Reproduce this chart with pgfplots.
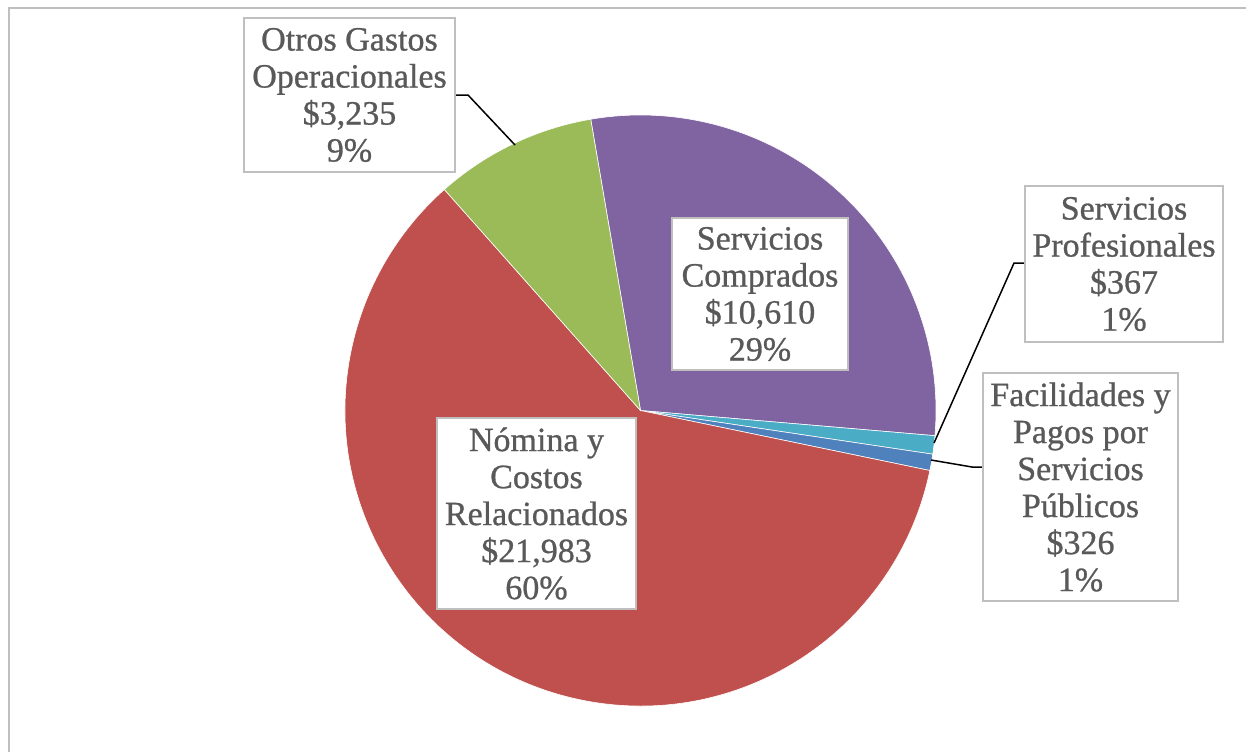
\documentclass[border=0pt]{standalone}
\usepackage{pgfplots}
\pgfplotsset{compat=1.18}
\usepackage{pgfplotstable}
\usepackage{fontspec}
\setmainfont{Liberation Serif}
\newfontfamily\lblfont{Liberation Serif}[FakeBold=0.8]
\definecolor{cpurple}{HTML}{8064A2}
\definecolor{cgreen}{HTML}{9BBB59}
\definecolor{cred}{HTML}{C0504D}
\definecolor{clblue}{HTML}{4BACC6}
\definecolor{cblue}{HTML}{4F81BD}
\definecolor{ctext}{HTML}{595959}
\definecolor{cframe}{HTML}{BFBFBF}

% order: clockwise from the green/purple border
\pgfplotstableread{
val
10610
367
326
21983
3235
}\piedata
\pgfplotstablegetelem{0}{val}\of\piedata \let\vA\pgfplotsretval
\pgfplotstablegetelem{1}{val}\of\piedata \let\vB\pgfplotsretval
\pgfplotstablegetelem{2}{val}\of\piedata \let\vC\pgfplotsretval
\pgfplotstablegetelem{3}{val}\of\piedata \let\vD\pgfplotsretval
\pgfplotstablegetelem{4}{val}\of\piedata \let\vE\pgfplotsretval
\edef\tot{\fpeval{\vA+\vB+\vC+\vD+\vE}}
\edef\aA{99.7}
\edef\aB{\fpeval{\aA-360*\vA/\tot}}
\edef\aC{\fpeval{\aB-360*\vB/\tot}}
\edef\aD{\fpeval{\aC-360*\vC/\tot}}
\edef\aE{\fpeval{\aD-360*\vD/\tot}}
\edef\aF{\fpeval{\aE-360*\vE/\tot}}
\def\R{147.75pt}

\begin{document}
\begin{tikzpicture}
\useasboundingbox (0,0) rectangle (623pt,376pt);
\begin{axis}[
  at={(0,0)}, anchor=south west,
  width=623pt, height=376pt, scale only axis,
  xmin=0, xmax=1246, ymin=0, ymax=752,
  hide axis, clip=false,
]
% frame
\draw[cframe, line width=1pt] (axis cs:9,0) -- (axis cs:9,744) -- (axis cs:1246,744);
% slices
\coordinate (C) at (axis cs:640.5,341.5);
\fill[cpurple, draw=white, line width=0.3pt] (C) -- ++(\aA:\R) arc[start angle=\aA, end angle=\aB, radius=\R] -- cycle;
\fill[clblue, draw=white, line width=0.3pt] (C) -- ++(\aB:\R) arc[start angle=\aB, end angle=\aC, radius=\R] -- cycle;
\fill[cblue, draw=white, line width=0.3pt] (C) -- ++(\aC:\R) arc[start angle=\aC, end angle=\aD, radius=\R] -- cycle;
\fill[cred, draw=white, line width=0.3pt] (C) -- ++(\aD:\R) arc[start angle=\aD, end angle=\aE, radius=\R] -- cycle;
\fill[cgreen, draw=white, line width=0.3pt] (C) -- ++(\aE:\R) arc[start angle=\aE, end angle=\aF, radius=\R] -- cycle;
% leader lines
\draw[black, line width=0.75pt] (axis cs:455,657) -- (axis cs:468,657) -- (axis cs:515,607);
\draw[black, line width=0.75pt] (axis cs:1025,489) -- (axis cs:1014,489) -- (axis cs:934,309);
\draw[black, line width=0.75pt] (axis cs:931,292) -- (axis cs:972,285) -- (axis cs:983,285);
% labels
\tikzset{lbl/.style={draw=cframe, line width=0.8pt, fill=white, text=ctext, align=center, inner sep=0pt,
  font=\lblfont\fontsize{17}{18.5}\selectfont}}
\node[lbl, minimum width=105.5pt, minimum height=77pt] at (axis cs:349.5,657)
  {Otros Gastos\\Operacionales\\\$3,235\\9\%};
\node[lbl, minimum width=88pt, minimum height=76pt] at (axis cs:760,458)
  {Servicios\\Comprados\\\$10,610\\29\%};
\node[lbl, minimum width=99pt, minimum height=78pt] at (axis cs:1124,488)
  {Servicios\\Profesionales\\\$367\\1\%};
\node[lbl, minimum width=97.5pt, minimum height=114pt] at (axis cs:1080.5,265)
  {Facilidades y\\Pagos por\\Servicios\\Públicos\\\$326\\1\%};
\node[lbl, minimum width=99.5pt, minimum height=95.5pt] at (axis cs:536.5,238.5)
  {Nómina y\\Costos\\Relacionados\\\$21,983\\60\%};
\end{axis}
\end{tikzpicture}
\end{document}
